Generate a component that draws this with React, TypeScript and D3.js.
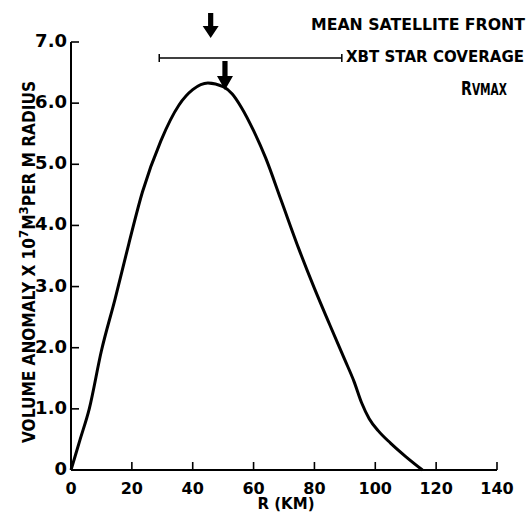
import React from "react";
import * as d3 from "d3";

const rKm = [0, 3, 6, 10, 14.5, 19, 23.5, 29.5, 35.5, 40, 45, 50, 53, 56, 60, 64, 69, 75, 80, 85, 90, 93, 95.5, 98, 101, 105, 110, 115.5];
const volume = [0, 0.5, 1.0, 1.95, 2.8, 3.7, 4.55, 5.38, 5.97, 6.22, 6.33, 6.27, 6.15, 5.93, 5.55, 5.1, 4.42, 3.6, 2.97, 2.38, 1.8, 1.45, 1.1, 0.84, 0.64, 0.44, 0.22, 0];

const xTicks = [0, 20, 40, 60, 80, 100, 120, 140];
const xTickLabels = ["0", "20", "40", "60", "80", "100", "120", "140"];
const yTicks = [0, 1, 2, 3, 4, 5, 6, 7];
const yTickLabels = ["0", "1.0", "2.0", "3.0", "4.0", "5.0", "6.0", "7.0"];

const satelliteFrontKm = 45.9;
const rvmaxKm = 50.6;
const xbtCoverageKm = [29, 89];

const FONT = "'DejaVu Sans', sans-serif";

function Arrow({ cx, top, tip, headStart }: { cx: number; top: number; tip: number; headStart: number }) {
  const sw = 2.6;
  const hw = 8;
  const d = `M${cx - sw},${top} L${cx + sw},${top} L${cx + sw},${headStart} L${cx + hw},${headStart} L${cx},${tip} L${cx - hw},${headStart} L${cx - sw},${headStart} Z`;
  return <path d={d} fill="#000" />;
}

export default function App() {
  const x = d3.scaleLinear().domain([0, 140]).range([71, 497]);
  const y = d3.scaleLinear().domain([0, 7]).range([470, 42]);
  const pts: [number, number][] = rKm.map((r, i) => [r, volume[i]]);
  const line = d3
    .line<[number, number]>()
    .x((d) => x(d[0]))
    .y((d) => y(d[1]))
    .curve(d3.curveMonotoneX);

  const cov0 = x(xbtCoverageKm[0]);
  const cov1 = x(xbtCoverageKm[1]);
  const covY = 58;

  return (
    <svg
      width={530}
      height={513}
      style={{ position: "absolute", left: 0, top: 0, background: "#fff" }}
      fontFamily={FONT}
      fontWeight={600}
    >
      <rect width={530} height={513} fill="#fff" />
      {/* axes */}
      <line x1={x(0)} x2={x(140)} y1={y(0)} y2={y(0)} stroke="#000" strokeWidth={2} />
      <line x1={x(0)} x2={x(0)} y1={y(0)} y2={y(7)} stroke="#000" strokeWidth={2} />
      {xTicks.map((t, i) => (
        <g key={"xt" + i}>
          {i > 0 && <line x1={x(t)} x2={x(t)} y1={y(0)} y2={y(0) - 8} stroke="#000" strokeWidth={1.6} />}
          <text x={x(t)} y={494} fontSize={16} textAnchor="middle">
            {xTickLabels[i]}
          </text>
        </g>
      ))}
      {yTicks.map((t, i) => (
        <g key={"yt" + i}>
          {i > 0 && <line x1={x(0)} x2={x(0) + 8} y1={y(t)} y2={y(t)} stroke="#000" strokeWidth={1.6} />}
          <text x={67} y={y(t) + 5} fontSize={18} textAnchor="end">
            {yTickLabels[i]}
          </text>
        </g>
      ))}
      <text x={286} y={509} fontSize={15} textAnchor="middle">
        R (KM)
      </text>
      <text
        transform={`translate(35,${262}) rotate(-90)`}
        fontSize={17}
        textAnchor="middle"
        textLength={362}
        lengthAdjust="spacingAndGlyphs"
      >
        VOLUME ANOMALY X 10
        <tspan dy={-7} fontSize={13}>7</tspan>
        <tspan dy={7}>M</tspan>
        <tspan dy={-7} fontSize={13}>3</tspan>
        <tspan dy={7}>PER M RADIUS</tspan>
      </text>

      {/* curve */}
      <path d={line(pts) || ""} fill="none" stroke="#000" strokeWidth={3} strokeLinejoin="round" />

      {/* annotations */}
      <Arrow cx={x(satelliteFrontKm)} top={13} tip={38} headStart={26} />
      <Arrow cx={x(rvmaxKm)} top={61} tip={90} headStart={76} />
      <line x1={cov0} x2={cov1} y1={covY} y2={covY} stroke="#000" strokeWidth={1.5} />
      <line x1={cov0} x2={cov0} y1={covY - 4} y2={covY + 4} stroke="#000" strokeWidth={1.5} />
      <line x1={cov1} x2={cov1} y1={covY - 4} y2={covY + 4} stroke="#000" strokeWidth={1.5} />

      <text x={311} y={30} fontSize={16} textLength={214} lengthAdjust="spacingAndGlyphs">
        MEAN SATELLITE FRONT
      </text>
      <text x={346} y={62} fontSize={16} textLength={178} lengthAdjust="spacingAndGlyphs">
        XBT STAR COVERAGE
      </text>
      <text x={461} y={95} fontSize={20} textLength={46} lengthAdjust="spacingAndGlyphs">
        R<tspan fontSize={15}>VMAX</tspan>
      </text>
    </svg>
  );
}
